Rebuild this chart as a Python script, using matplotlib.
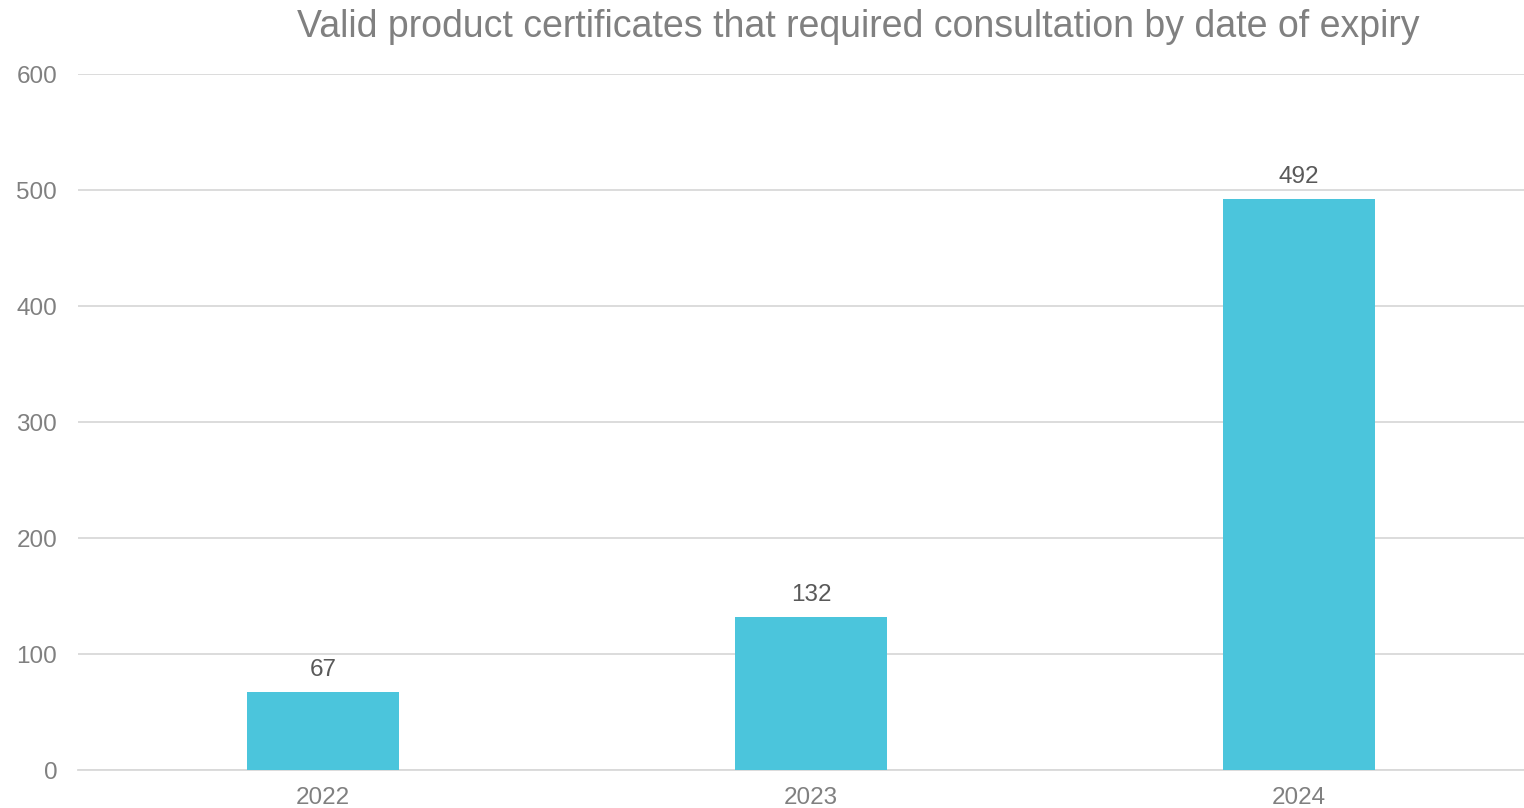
import matplotlib.pyplot as plt

plt.rcParams['font.family'] = ['Liberation Sans', 'DejaVu Sans']

years = ['2022', '2023', '2024']
counts = [67, 132, 492]
yticks = [0, 100, 200, 300, 400, 500, 600]

bar_color = '#4BC5DC'
text_color = '#808080'
grid_color = '#D9D9D9'

fig = plt.figure(figsize=(15.24, 8.08), dpi=100)
ax = fig.add_axes([0.0512, 0.047, 0.9488, 0.8614])

x = range(len(years))
bars = ax.bar(x, counts, width=0.311, color=bar_color, zorder=3)

for xi, v in zip(x, counts):
    ax.annotate(str(v), (xi, v), xytext=(0, 8), textcoords='offset points',
                ha='center', va='bottom', fontsize=17.5, color='#595959')

ax.set_xlim(-0.502, 2.461)
ax.set_ylim(0, 600)
ax.set_yticks(yticks)
ax.set_xticks(list(x))
ax.set_xticklabels(years)
ax.grid(axis='y', color=grid_color, linewidth=1.3, zorder=0)
for s in ['top', 'right', 'left']:
    ax.spines[s].set_visible(False)
ax.spines['bottom'].set_color(grid_color)
ax.spines['bottom'].set_linewidth(1.3)
ax.tick_params(axis='both', length=0, labelsize=17.5, labelcolor=text_color)
ax.tick_params(axis='y', pad=15)
ax.tick_params(axis='x', pad=12)

fig.text(0.563, 0.966, 'Valid product certificates that required consultation by date of expiry',
         ha='center', va='center', fontsize=27, color=text_color)

fig.savefig('out.png', dpi=100)
